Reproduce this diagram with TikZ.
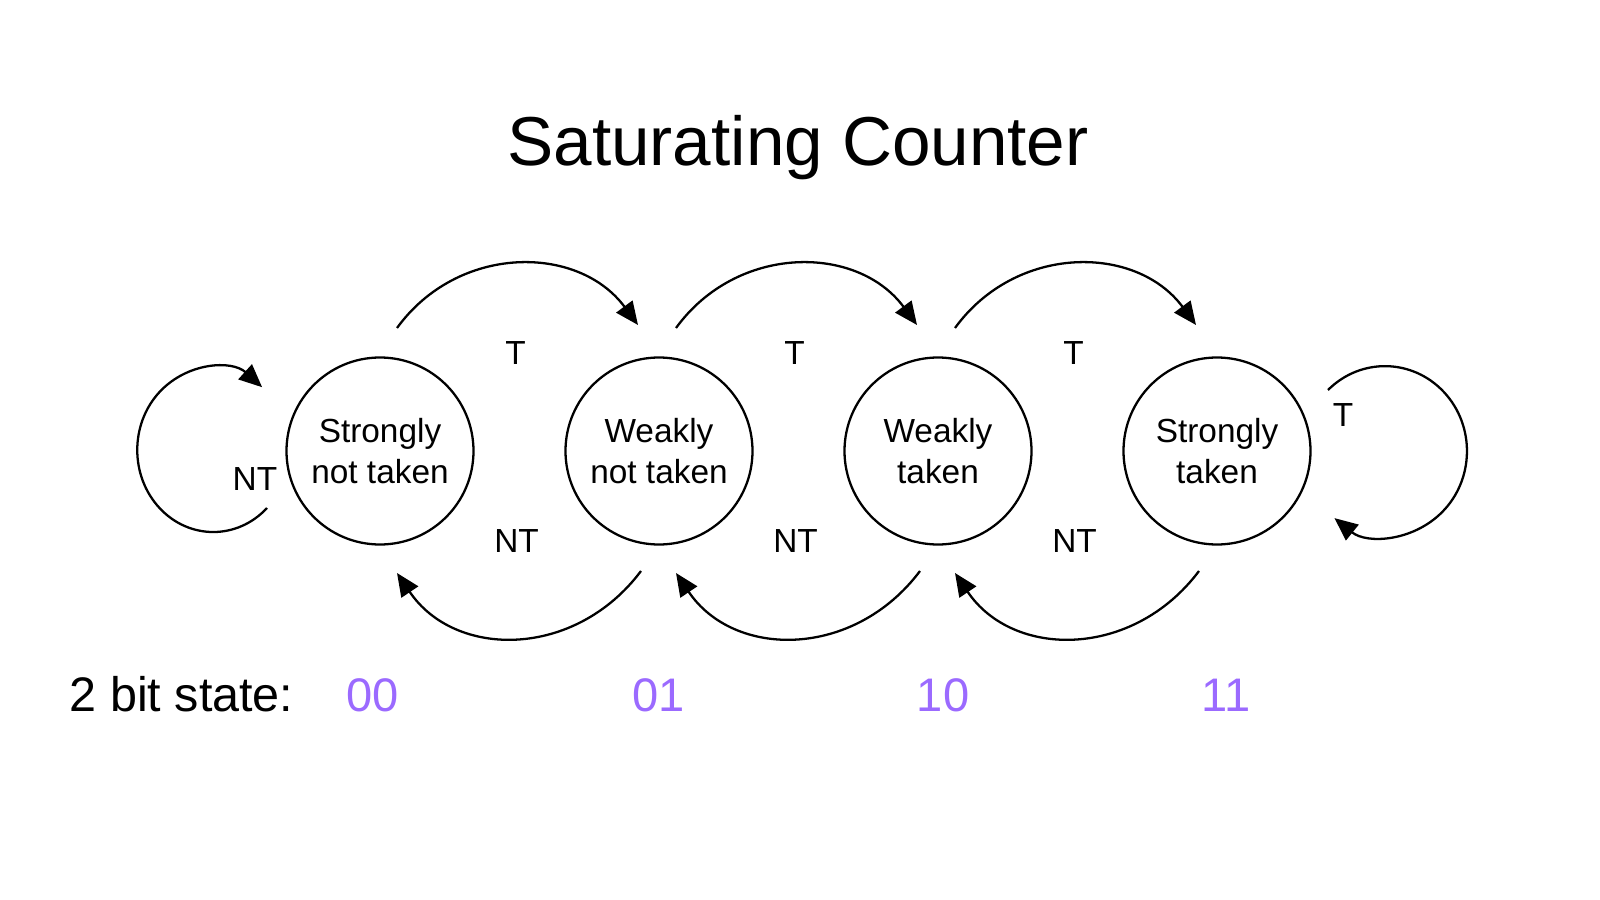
\documentclass[tikz,border=0pt]{standalone}
\usepackage{fontspec}
\setmainfont{Liberation Sans}
\usetikzlibrary{arrows.meta,calc}
\definecolor{bitpurple}{RGB}{155,106,255}
\begin{document}
\begin{tikzpicture}[x=0.1mm,y=-0.1mm,
  state/.style={circle,draw,line width=0.65pt,minimum size=18.7mm,inner sep=0pt,
    align=center,font=\fontsize{9.5}{11.9}\selectfont},
  edge/.style={line width=0.65pt,-{Triangle[length=2.3mm,width=2mm]}},
  lbl/.style={font=\fontsize{9.5}{11.9}\selectfont,anchor=base,inner sep=0pt},
  bits/.style={font=\fontsize{13.4}{16}\selectfont,anchor=base,inner sep=0pt,text=bitpurple}]
\useasboundingbox (0,0) rectangle (1600,900);

% title and bit-state row
\node[font=\fontsize{19.7}{24}\selectfont,anchor=base,inner sep=0pt] (title) at (798,166) {Saturating Counter};
\node[font=\fontsize{13.8}{16}\selectfont,anchor=base west,inner sep=0pt] (bitlabel) at (69,711) {2 bit state:};
\node[bits] (b0) at (373,711) {00};
\node[bits] (b1) at (659,711) {01};
\node[bits] (b2) at (943,711) {10};
\node[bits] (b3) at (1226,711) {11};

% the four states
\node[state] (s0) at (380,451) {Strongly\\not taken};
\node[state] (s1) at (659,451) {Weakly\\not taken};
\node[state] (s2) at (938,451) {Weakly\\taken};
\node[state] (s3) at (1217,451) {Strongly\\taken};

% taken transitions (upper arcs) and not-taken transitions (lower arcs)
\foreach \a/\b in {s0/s1,s1/s2,s2/s3}{
  \coordinate (\a-ts) at ($(\a)+(17,-123)$);
  \coordinate (\b-te) at ($(\b)+(-21,-126)$);
  \draw[edge] (\a-ts) .. controls ($(\a-ts)+(61,-84)$) and ($(\b-te)+(-60,-81)$) .. (\b-te);
  \coordinate (\b-ns) at ($(\b)+(-18,120)$);
  \coordinate (\a-ne) at ($(\a)+(17,122)$);
  \draw[edge] (\b-ns) .. controls ($(\b-ns)+(-66,88)$) and ($(\a-ne)+(58,86)$) .. (\a-ne);
  \node[lbl] (\a-tl) at ($($(\a)!0.5!(\b)$)+(-4,-86)$) {T};
  \node[lbl] (\a-nl) at ($($(\a)!0.5!(\b)$)+(-3,101)$) {NT};
}

% self loops
\coordinate (l0) at ($(s0)+(-113,57)$);
\draw[edge] (l0) arc[start angle=45,end angle=310,x radius=76,y radius=82];
\node[lbl] (l0l) at (255,491) {NT};

\coordinate (l3) at ($(s3)+(111,-61)$);
\draw[edge] (l3) arc[start angle=226,end angle=488,x radius=82,y radius=85];
\node[lbl] (l3l) at (1343,427) {T};
\end{tikzpicture}
\end{document}
